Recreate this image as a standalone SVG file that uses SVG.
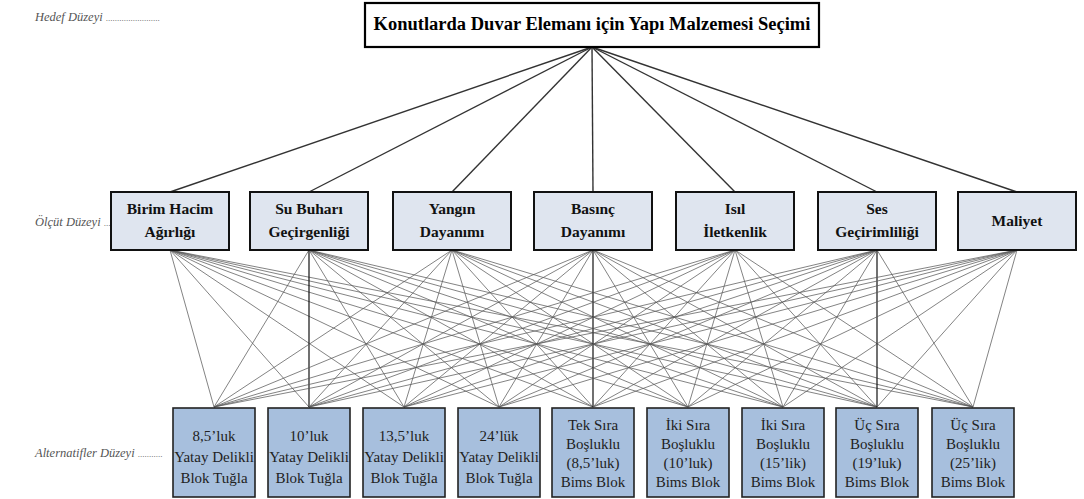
<svg xmlns="http://www.w3.org/2000/svg" width="1084" height="499" viewBox="0 0 1084 499">
  <style>
    text { font-family: "Liberation Serif", "DejaVu Serif", serif; }
    .lvl { font-style: italic; font-size: 12.5px; fill: #555; }
    .goal { fill: #fff; stroke: #000; stroke-width: 2.2; }
    .goal-t { font-weight: bold; font-size: 18.5px; fill: #000; text-anchor: middle; }
    .crit { fill: #dfe5ef; stroke: #111; stroke-width: 2; }
    .crit-t { font-weight: bold; font-size: 15.5px; fill: #111; text-anchor: middle; }
    .alt { fill: #a7bfdd; stroke: #222; stroke-width: 1.6; }
    .alt-t { font-size: 15px; fill: #222; text-anchor: middle; }
    .up line { stroke: #333; stroke-width: 1.4; }
    .down line { stroke: #5a5a5a; stroke-width: 0.75; }
    .down line.v { stroke: #111; stroke-width: 1.2; }
  </style>

  <!-- level captions -->
  <text class="lvl" x="35" y="21">Hedef Düzeyi <tspan font-style="normal" font-size="9">........................</tspan></text>
  <text class="lvl" x="35" y="226">Ölçüt Düzeyi <tspan font-style="normal" font-size="9">.....</tspan></text>
  <text class="lvl" x="35" y="457">Alternatifler Düzeyi <tspan font-style="normal" font-size="9">...........</tspan></text>

  <!-- connectors -->
  <g id="connectors">
    <g class="up">
      <line x1="592" y1="47" x2="170" y2="192"/>
      <line x1="592" y1="47" x2="309" y2="192"/>
      <line x1="592" y1="47" x2="452" y2="192"/>
      <line x1="592" y1="47" x2="593" y2="192"/>
      <line x1="592" y1="47" x2="735" y2="192"/>
      <line x1="592" y1="47" x2="877" y2="192"/>
      <line x1="592" y1="47" x2="1017" y2="192"/>
    </g>
    <g class="down">
      <line x1="170" y1="250" x2="214" y2="407"/><line x1="170" y1="250" x2="309" y2="407"/><line x1="170" y1="250" x2="404" y2="407"/><line x1="170" y1="250" x2="499" y2="407"/><line x1="170" y1="250" x2="593" y2="407"/><line x1="170" y1="250" x2="688" y2="407"/><line x1="170" y1="250" x2="783" y2="407"/><line x1="170" y1="250" x2="877" y2="407"/><line x1="170" y1="250" x2="973" y2="407"/>
      <line x1="309" y1="250" x2="214" y2="407"/><line class="v" x1="309" y1="250" x2="309" y2="407"/><line x1="309" y1="250" x2="404" y2="407"/><line x1="309" y1="250" x2="499" y2="407"/><line x1="309" y1="250" x2="593" y2="407"/><line x1="309" y1="250" x2="688" y2="407"/><line x1="309" y1="250" x2="783" y2="407"/><line x1="309" y1="250" x2="877" y2="407"/><line x1="309" y1="250" x2="973" y2="407"/>
      <line x1="452" y1="250" x2="214" y2="407"/><line x1="452" y1="250" x2="309" y2="407"/><line x1="452" y1="250" x2="404" y2="407"/><line x1="452" y1="250" x2="499" y2="407"/><line x1="452" y1="250" x2="593" y2="407"/><line x1="452" y1="250" x2="688" y2="407"/><line x1="452" y1="250" x2="783" y2="407"/><line x1="452" y1="250" x2="877" y2="407"/><line x1="452" y1="250" x2="973" y2="407"/>
      <line x1="593" y1="250" x2="214" y2="407"/><line x1="593" y1="250" x2="309" y2="407"/><line x1="593" y1="250" x2="404" y2="407"/><line x1="593" y1="250" x2="499" y2="407"/><line class="v" x1="593" y1="250" x2="593" y2="407"/><line x1="593" y1="250" x2="688" y2="407"/><line x1="593" y1="250" x2="783" y2="407"/><line x1="593" y1="250" x2="877" y2="407"/><line x1="593" y1="250" x2="973" y2="407"/>
      <line x1="735" y1="250" x2="214" y2="407"/><line x1="735" y1="250" x2="309" y2="407"/><line x1="735" y1="250" x2="404" y2="407"/><line x1="735" y1="250" x2="499" y2="407"/><line x1="735" y1="250" x2="593" y2="407"/><line x1="735" y1="250" x2="688" y2="407"/><line x1="735" y1="250" x2="783" y2="407"/><line x1="735" y1="250" x2="877" y2="407"/><line x1="735" y1="250" x2="973" y2="407"/>
      <line x1="877" y1="250" x2="214" y2="407"/><line x1="877" y1="250" x2="309" y2="407"/><line x1="877" y1="250" x2="404" y2="407"/><line x1="877" y1="250" x2="499" y2="407"/><line x1="877" y1="250" x2="593" y2="407"/><line x1="877" y1="250" x2="688" y2="407"/><line x1="877" y1="250" x2="783" y2="407"/><line class="v" x1="877" y1="250" x2="877" y2="407"/><line x1="877" y1="250" x2="973" y2="407"/>
      <line x1="1017" y1="250" x2="214" y2="407"/><line x1="1017" y1="250" x2="309" y2="407"/><line x1="1017" y1="250" x2="404" y2="407"/><line x1="1017" y1="250" x2="499" y2="407"/><line x1="1017" y1="250" x2="593" y2="407"/><line x1="1017" y1="250" x2="688" y2="407"/><line x1="1017" y1="250" x2="783" y2="407"/><line x1="1017" y1="250" x2="877" y2="407"/><line x1="1017" y1="250" x2="973" y2="407"/>
    </g>
  </g>

  <!-- goal -->
  <g id="goal">
    <rect class="goal" x="365" y="3" width="454" height="44"/>
    <text class="goal-t" x="592" y="30">Konutlarda Duvar Elemanı için Yapı Malzemesi Seçimi</text>
  </g>

  <!-- criteria -->
  <g id="c1"><rect class="crit" x="111" y="192" width="118" height="58"/><text class="crit-t" x="170" y="214">Birim Hacim</text><text class="crit-t" x="170" y="237">Ağırlığı</text></g>
  <g id="c2"><rect class="crit" x="250" y="192" width="118" height="58"/><text class="crit-t" x="309" y="214">Su Buharı</text><text class="crit-t" x="309" y="237">Geçirgenliği</text></g>
  <g id="c3"><rect class="crit" x="393" y="192" width="118" height="58"/><text class="crit-t" x="452" y="214">Yangın</text><text class="crit-t" x="452" y="237">Dayanımı</text></g>
  <g id="c4"><rect class="crit" x="534" y="192" width="118" height="58"/><text class="crit-t" x="593" y="214">Basınç</text><text class="crit-t" x="593" y="237">Dayanımı</text></g>
  <g id="c5"><rect class="crit" x="676" y="192" width="118" height="58"/><text class="crit-t" x="735" y="214">Isıl</text><text class="crit-t" x="735" y="237">İletkenlik</text></g>
  <g id="c6"><rect class="crit" x="818" y="192" width="118" height="58"/><text class="crit-t" x="877" y="214">Ses</text><text class="crit-t" x="877" y="237">Geçirimliliği</text></g>
  <g id="c7"><rect class="crit" x="958" y="192" width="118" height="58"/><text class="crit-t" x="1017" y="226">Maliyet</text></g>

  <!-- alternatives -->
  <g id="a1"><rect class="alt" x="173" y="408" width="82" height="89"/><text class="alt-t" x="214" y="441">8,5’luk</text><text class="alt-t" x="214" y="462">Yatay Delikli</text><text class="alt-t" x="214" y="483">Blok Tuğla</text></g>
  <g id="a2"><rect class="alt" x="268" y="408" width="82" height="89"/><text class="alt-t" x="309" y="441">10’luk</text><text class="alt-t" x="309" y="462">Yatay Delikli</text><text class="alt-t" x="309" y="483">Blok Tuğla</text></g>
  <g id="a3"><rect class="alt" x="363" y="408" width="82" height="89"/><text class="alt-t" x="404" y="441">13,5’luk</text><text class="alt-t" x="404" y="462">Yatay Delikli</text><text class="alt-t" x="404" y="483">Blok Tuğla</text></g>
  <g id="a4"><rect class="alt" x="458" y="408" width="82" height="89"/><text class="alt-t" x="499" y="441">24’lük</text><text class="alt-t" x="499" y="462">Yatay Delikli</text><text class="alt-t" x="499" y="483">Blok Tuğla</text></g>
  <g id="a5"><rect class="alt" x="552" y="408" width="82" height="89"/><text class="alt-t" x="593" y="430">Tek Sıra</text><text class="alt-t" x="593" y="449">Boşluklu</text><text class="alt-t" x="593" y="468">(8,5’luk)</text><text class="alt-t" x="593" y="487">Bims Blok</text></g>
  <g id="a6"><rect class="alt" x="647" y="408" width="82" height="89"/><text class="alt-t" x="688" y="430">İki Sıra</text><text class="alt-t" x="688" y="449">Boşluklu</text><text class="alt-t" x="688" y="468">(10’luk)</text><text class="alt-t" x="688" y="487">Bims Blok</text></g>
  <g id="a7"><rect class="alt" x="742" y="408" width="82" height="89"/><text class="alt-t" x="783" y="430">İki Sıra</text><text class="alt-t" x="783" y="449">Boşluklu</text><text class="alt-t" x="783" y="468">(15’lik)</text><text class="alt-t" x="783" y="487">Bims Blok</text></g>
  <g id="a8"><rect class="alt" x="836" y="408" width="82" height="89"/><text class="alt-t" x="877" y="430">Üç Sıra</text><text class="alt-t" x="877" y="449">Boşluklu</text><text class="alt-t" x="877" y="468">(19’luk)</text><text class="alt-t" x="877" y="487">Bims Blok</text></g>
  <g id="a9"><rect class="alt" x="932" y="408" width="82" height="89"/><text class="alt-t" x="973" y="430">Üç Sıra</text><text class="alt-t" x="973" y="449">Boşluklu</text><text class="alt-t" x="973" y="468">(25’lik)</text><text class="alt-t" x="973" y="487">Bims Blok</text></g>
</svg>
